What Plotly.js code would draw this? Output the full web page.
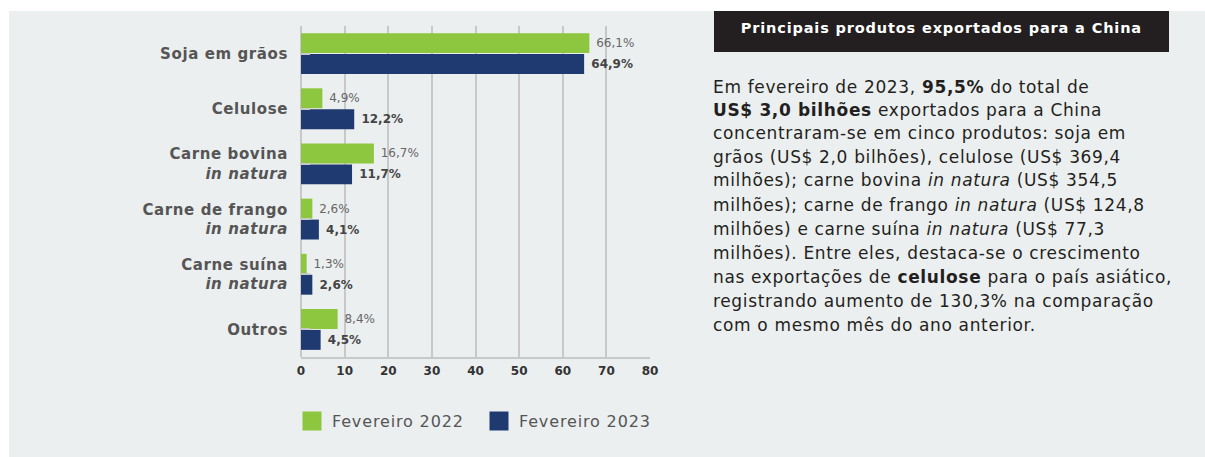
<!DOCTYPE html>
<html>
<head>
<meta charset="utf-8">
<script src="https://cdn.plot.ly/plotly-3.0.1.min.js"></script>
<style>
html,body{margin:0;padding:0;background:#fff;}
#chart{width:1205px;height:457px;}
#chart .annotation text.annotation-text{letter-spacing:0.65px;}
#chart .annotation[data-index="0"] text.annotation-text{letter-spacing:0.85px;}
#chart .legendtext{letter-spacing:0.85px;}
#chart g.ytick text{letter-spacing:0.6px;}
</style>
</head>
<body>
<div id="chart"></div>
<script>
const categories = ['Soja em grãos', 'Celulose', 'Carne bovina<br><i>in natura</i>', 'Carne de frango<br><i>in natura</i>', 'Carne suína<br><i>in natura</i>', 'Outros'];
const fev2022 = [66.1, 4.9, 16.7, 2.6, 1.3, 8.4];
const fev2023 = [64.9, 12.2, 11.7, 4.1, 2.6, 4.5];
const seriesNames = ['Fevereiro 2022', 'Fevereiro 2023'];
const xTicks = [0, 10, 20, 30, 40, 50, 60, 70, 80];

const W = 1205, H = 457;
const px = v => v / W;
const py = v => 1 - v / H;
const FONT = "'DejaVu Sans', sans-serif";
const GREEN = '#8DC63F', BLUE = '#1F3A70', GRID = '#c8c8c8';

const traces = [
  {type: 'bar', orientation: 'h', name: seriesNames[0], y: categories, x: fev2022,
   marker: {color: GREEN}, texttemplate: ' %{x:.1f}%', textposition: 'outside',
   textfont: {family: FONT, size: 12, color: '#666666'}, cliponaxis: false, showlegend: false, hoverinfo: 'x'},
  {type: 'bar', orientation: 'h', name: seriesNames[1], y: categories, x: fev2023,
   marker: {color: BLUE}, texttemplate: ' %{x:.1f}%', textposition: 'outside',
   textfont: {family: FONT, size: 12, color: '#444444', weight: 'bold'}, cliponaxis: false, showlegend: false, hoverinfo: 'x'},
  {type: 'scatter', mode: 'markers', name: seriesNames[0], x: [null], y: [null],
   marker: {symbol: 'square', size: 16, color: GREEN, line: {color: GREEN, width: 3}}},
  {type: 'scatter', mode: 'markers', name: seriesNames[1], x: [null], y: [null],
   marker: {symbol: 'square', size: 16, color: BLUE, line: {color: BLUE, width: 3}}}
];

const bodyLines = [
  'Em fevereiro de 2023, <b>95,5%</b> do total de',
  '<b>US$ 3,0 bilhões</b> exportados para a China',
  'concentraram-se em cinco produtos: soja em',
  'grãos (US$ 2,0 bilhões), celulose (US$ 369,4',
  'milhões); carne bovina <i>in natura</i> (US$ 354,5',
  'milhões); carne de frango <i>in natura</i> (US$ 124,8',
  'milhões) e carne suína <i>in natura</i> (US$ 77,3',
  'milhões). Entre eles, destaca-se o crescimento',
  'nas exportações de <b>celulose</b> para o país asiático,',
  'registrando aumento de 130,3% na comparação',
  'com o mesmo mês do ano anterior.'
];
const lineY = [87, 110, 133, 157, 180, 205, 229, 253, 277, 301, 325];

const annotations = [
  {xref: 'paper', yref: 'paper', x: px(941), y: py(28), xanchor: 'center', yanchor: 'middle', showarrow: false,
   text: '<b>Principais produtos exportados para a China</b>', font: {family: FONT, size: 14.5, color: '#ffffff'}}
];
bodyLines.forEach((t, i) => annotations.push({
  xref: 'paper', yref: 'paper', x: px(711), y: py(lineY[i]), xanchor: 'left', yanchor: 'middle', align: 'left', showarrow: false,
  text: t, font: {family: FONT, size: 17, color: '#231F20'}
}));

const layout = {
  width: W, height: H,
  margin: {l: 0, r: 0, t: 0, b: 0},
  paper_bgcolor: '#ffffff', plot_bgcolor: 'rgba(0,0,0,0)',
  separators: ',.',
  barmode: 'group', bargap: 0.24, bargroupgap: 0.05,
  font: {family: FONT},
  xaxis: {domain: [px(301), px(650)], range: [0, 80], tickvals: xTicks, ticktext: xTicks.map(String),
    showgrid: true, gridcolor: GRID, gridwidth: 2, zeroline: true, zerolinecolor: GRID, zerolinewidth: 2,
    showline: true, linecolor: GRID, linewidth: 2, ticks: '', ticklabelstandoff: 2,
    tickfont: {family: FONT, size: 12, color: '#333333', weight: 'bold'}, fixedrange: true},
  yaxis: {domain: [1 - 357 / H, 1 - 26 / H], type: 'category', categoryarray: categories, range: [5.5, -0.5],
    showgrid: false, zeroline: false, showline: false,
    ticks: 'inside', ticklen: 9, tickwidth: 2, tickcolor: GRID, ticklabelstandoff: 12,
    tickfont: {family: FONT, size: 15, color: '#555555', weight: 'bold'}, fixedrange: true},
  legend: {orientation: 'h', x: px(292), y: py(421), xanchor: 'left', yanchor: 'middle',
    font: {family: FONT, size: 16, color: '#555555'}, bgcolor: 'rgba(0,0,0,0)', entrywidth: 142, entrywidthmode: 'pixels'},
  shapes: [
    {type: 'rect', xref: 'paper', yref: 'paper', x0: px(9), x1: 1, y0: 0, y1: py(11), fillcolor: '#ECEFF0', line: {width: 0}, layer: 'below'},
    {type: 'rect', xref: 'paper', yref: 'paper', x0: px(714), x1: px(1169), y0: py(52), y1: py(11), fillcolor: '#231F20', line: {width: 0}, layer: 'below'}
  ],
  annotations: annotations
};

Plotly.newPlot('chart', traces, layout, {displayModeBar: false, staticPlot: true});
</script>
</body>
</html>
